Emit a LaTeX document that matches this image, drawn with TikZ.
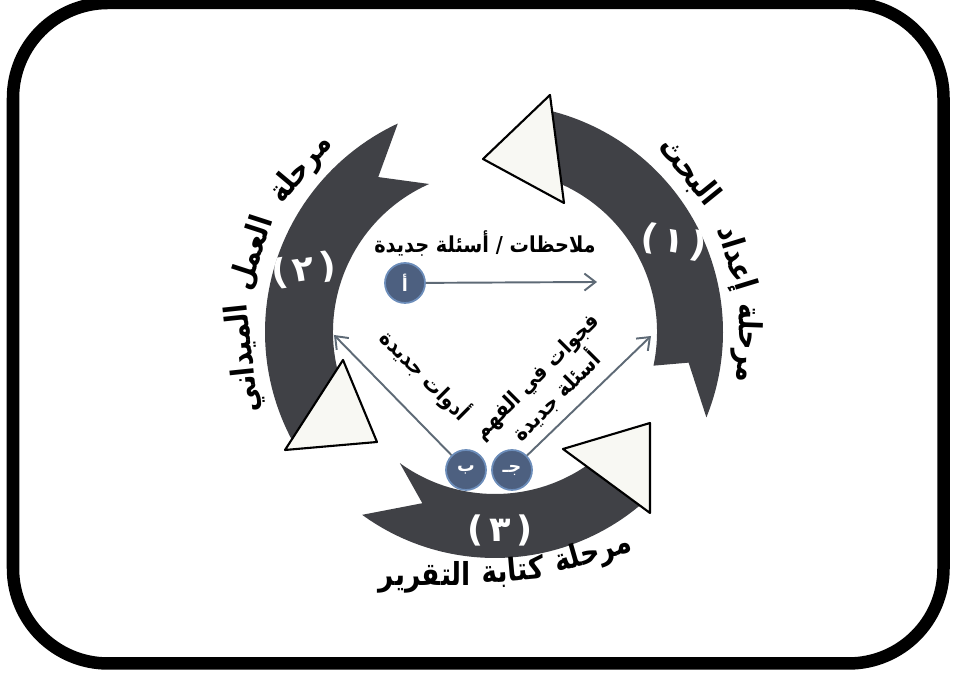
\documentclass[tikz,border=0pt]{standalone}
\usepackage{fontspec}
\usepackage{xcolor}
\usepackage{graphicx}
\usetikzlibrary{arrows.meta}
\newfontfamily\arabicfont[Script=Arabic]{DejaVu Sans}
\newfontfamily\numfont{DejaVu Sans}
\TeXXeTstate=1
\definecolor{mydarkgray}{HTML}{404146}
\definecolor{myoffwhite}{HTML}{F8F8F3}
\definecolor{myslate}{HTML}{5E6A76}
\definecolor{mycircleblue}{HTML}{4D6080}
\definecolor{mycircleedge}{HTML}{6C8DBA}
\newcommand{\artext}[1]{\beginR #1\endR}
\newcommand{\titleword}[1]{\scalebox{0.84}[1]{\beginR #1\endR}}
\newcommand{\labeltext}[1]{\scalebox{0.88}[1]{\beginR #1\endR}}
\newcommand{\phasedigit}[1]{{\numfont(}\,{\arabicfont #1}\,{\numfont)}}

\begin{document}
\begin{tikzpicture}[x=0.2mm,y=0.2mm]
	\tikzset{% styles for the cycle
		band/.style={fill=mydarkgray},
		headtri/.style={fill=myoffwhite,draw=black,line width=1.2pt,line join=round},
		lettercircle/.style={circle,minimum size=0.8cm,inner sep=0pt,fill=mycircleblue,draw=mycircleedge,line width=1pt,text=white,font=\arabicfont\bfseries\fontsize{10}{12}\selectfont},
		flowarrow/.style={-{Straight Barb[length=2.2mm,width=3.4mm]},draw=myslate,line width=1.1pt},
		phasenum/.style={text=white,font=\bfseries\fontsize{20}{22}\selectfont,inner sep=0pt},
		phasetitle/.style={font=\arabicfont\bfseries\fontsize{18}{20}\selectfont,inner sep=0pt},
		flowlabel/.style={font=\arabicfont\bfseries\fontsize{12.5}{15}\selectfont,align=center,inner sep=1pt}}
	\useasboundingbox (0,0) rectangle (958,674);
	% frame
	\draw[line width=0.25cm,rounded corners=1.9cm] (13,10.5) rectangle (943.5,671);
	\begin{scope}[shift={(495,342)}]
		% arc 1, 2, 3
		\fill[band] (-12:162) arc[start angle=-12,end angle=69,radius=162] -- (77:228) arc[start angle=77,end angle=-22,radius=228] -- (-9:196) -- cycle;
		\fill[band] (114:162) arc[start angle=114,end angle=196,radius=162] -- (209:230) arc[start angle=209,end angle=115,radius=230] -- (127:194) -- cycle;
		\fill[band] (234:162) arc[start angle=234,end angle=306,radius=162] -- (312:226) arc[start angle=312,end angle=234,radius=226] -- (247:186) -- cycle;
		% heads
		\draw[headtri] (55,237) -- (69,129) -- (-12,173) -- cycle;
		\draw[headtri] (-152,-28) -- (-210,-118) -- (-118,-110) -- cycle;
		\draw[headtri] (68,-117) -- (155,-181) -- (155,-91) -- cycle;

		\node[phasenum,rotate=-10] (n1) at (179,90) {\phasedigit{١}};
		\node[phasenum,rotate=8] (n2) at (-191,62) {\phasedigit{٢}};
		\node[phasenum] (n3) at (5,-198) {\phasedigit{٣}};

		\node[phasetitle,rotate=-51] (t1c) at (39.5:252) {\titleword{البحث}};
		\node[phasetitle,rotate=-73] (t1b) at (17:251) {\titleword{إعداد}};
		\node[phasetitle,rotate=-92] (t1a) at (-2.5:252) {\titleword{مرحلة}};
		\node[phasetitle,rotate=50] (t2a) at (140:253) {\titleword{مرحلة}};
		\node[phasetitle,rotate=72] (t2b) at (162:255) {\titleword{العمل}};
		\node[phasetitle,rotate=96] (t2c) at (186:252) {\titleword{الميداني}};
		\node[phasetitle,rotate=16] (t3a) at (98,-222) {\titleword{مرحلة}};
		\node[phasetitle,rotate=5] (t3b) at (18,-240) {\titleword{كتابة}};
		\node[phasetitle] (t3c) at (-70,-245) {\titleword{التقرير}};

		\node[lettercircle] (alef) at (-90,49) {أ};
		\node[lettercircle] (beh) at (-29,-138) {ب};
		\node[lettercircle] (jeem) at (17,-138) {جـ};
		\coordinate (alefend) at (102,50);
		\coordinate (behend) at (-161,-3);
		\coordinate (jeemend) at (156,-4);
		\draw[flowarrow] (alef) -- (alefend);
		\draw[flowarrow] (beh) -- (behend);
		\draw[flowarrow] (jeem) -- (jeemend);

		\node[flowlabel] (notes) at (-10,88) {\labeltext{ملاحظات / أسئلة جديدة}};
		\node[flowlabel,rotate=-45] (tools) at (-70,-43) {\labeltext{أدوات جديدة}};
		\node[flowlabel,rotate=45] (gaps) at (52,-55) {\labeltext{فجوات في الفهم}\\\labeltext{أسئلة جديدة}};
	\end{scope}
\end{tikzpicture}
\end{document}
